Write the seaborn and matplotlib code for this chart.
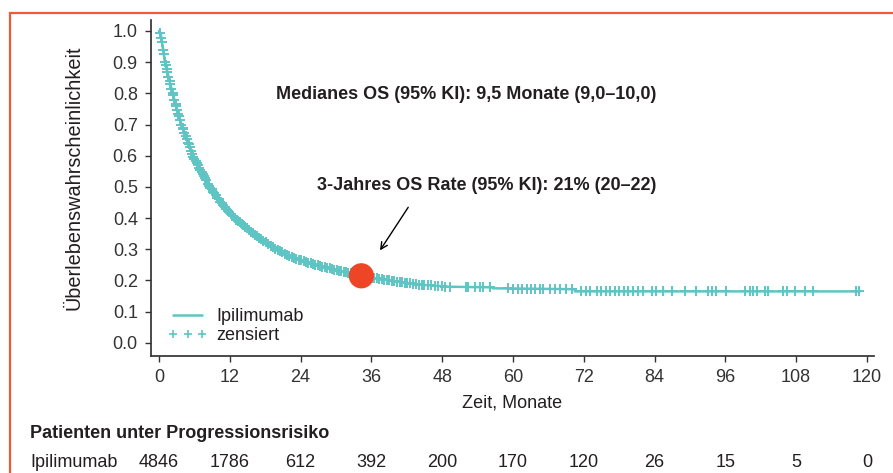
import numpy as np
import pandas as pd
import seaborn as sns
import matplotlib.pyplot as plt
from matplotlib.lines import Line2D
from matplotlib.patches import Rectangle

# Kaplan-Meier curve
km_months = [0, 0.3, 1.0, 2.3, 3.8, 5.7, 8.6, 10.5, 12.8, 16.0, 19.8, 22.8, 25.6, 30.0,
             34.3, 40.0, 44.0, 49.0, 56.6, 56.6, 70.5, 70.5, 118.8]
km_surv = [1.0, 0.99, 0.90, 0.80, 0.70, 0.60, 0.50, 0.45, 0.40, 0.35, 0.30, 0.272, 0.255,
           0.233, 0.215, 0.197, 0.187, 0.18, 0.178, 0.175, 0.172, 0.165, 0.165]

# censored observations (months)
censor_months = [
    0.2, 0.4, 0.5, 0.7, 0.8, 1.0, 1.1, 1.3, 1.4, 1.6, 1.8, 1.9, 2.1, 2.3, 2.4, 2.6, 2.8,
    2.9, 3.1, 3.3, 3.4, 3.6, 3.8, 4.0, 4.1, 4.3, 4.5, 4.7, 4.9, 5.0, 5.2, 5.4, 5.6, 5.8,
    6.0, 6.2, 6.4, 6.6, 6.8, 7.0, 7.2, 7.4, 7.6, 7.8, 8.0, 8.3, 8.5, 8.7, 8.9, 9.2, 9.4,
    9.6, 9.9, 10.1, 10.4, 10.6, 10.9, 11.1, 11.4, 11.7, 11.9, 12.2, 12.5, 12.8, 13.1,
    13.4, 13.7, 14.0, 14.3, 14.6, 14.9, 15.2, 15.6, 15.9, 16.3, 16.6, 17.0, 17.3, 17.7,
    18.1, 18.5, 18.9, 19.3, 19.7, 20.1, 20.5, 20.9, 21.3, 21.7, 22.1, 22.5, 22.9, 23.3,
    23.7, 24.1, 24.5, 24.9, 25.3, 25.7, 26.1, 26.5, 26.9, 27.3, 27.7, 28.1, 28.5, 28.9,
    29.3, 29.7, 30.1, 30.5, 30.9, 31.3, 31.7, 32.1, 32.5, 32.9, 33.3, 33.7, 34.1, 34.9,
    35.3, 35.7, 36.1, 36.5, 36.9, 37.3, 37.8, 38.2, 38.6, 39.0, 39.5, 39.9, 40.3, 40.8,
    41.2, 41.7, 42.1, 42.6, 43.0, 43.5, 44.0, 44.5, 45.0, 45.6, 46.1, 46.7, 47.3, 47.9,
    48.5, 49.3, 52.1, 52.4, 53.6, 54.4, 55.0, 56.1, 59.2, 60.0, 60.8, 61.5, 62.3, 63.0,
    63.8, 64.5, 65.1, 66.3, 67.2, 68.0, 69.0, 70.0, 71.6, 72.3, 73.1, 74.2, 75.0, 75.8,
    76.5, 77.3, 78.0, 78.8, 79.5, 80.3, 81.2, 82.0, 83.5, 84.3, 85.4, 86.9, 89.2, 91.1,
    93.1, 93.7, 94.5, 96.1, 99.3, 100.2, 100.7, 101.3, 102.7, 103.2, 105.8, 106.4,
    107.8, 109.5, 110.9, 118.1, 118.6]

# 3-year OS point
os3_month = [34.3]
os3_surv = [0.215]

tick_months = [0, 12, 24, 36, 48, 60, 72, 84, 96, 108, 120]
at_risk = [4846, 1786, 612, 392, 200, 170, 120, 26, 15, 5, 0]
y_ticks = [0.0, 0.1, 0.2, 0.3, 0.4, 0.5, 0.6, 0.7, 0.8, 0.9, 1.0]

teal = '#5ec5c4'
red = '#ee4526'
ink = '#231f20'
fs = 13

sns.set_theme(style='ticks', rc={
    'axes.edgecolor': '#333333',
    'xtick.color': '#333333',
    'ytick.color': '#333333',
    'text.color': ink,
    'axes.labelcolor': ink,
})
plt.rcParams['font.family'] = ['Liberation Sans', 'DejaVu Sans']

fig = plt.figure(figsize=(8.93, 4.73), dpi=100)
ax = fig.add_axes([0.1691, 0.2474, 0.8096, 0.7103])

curve = pd.DataFrame({'Monate': km_months, 'OS': km_surv})
sns.lineplot(data=curve, x='Monate', y='OS', color=teal, linewidth=1.8,
             estimator=None, sort=False, ax=ax)

cens = pd.DataFrame({'Monate': censor_months,
                     'OS': np.interp(censor_months, km_months, km_surv)})
ax.plot(cens['Monate'], cens['OS'], linestyle='none', marker='+', color=teal,
        markersize=6.5, markeredgewidth=1.4)

sns.scatterplot(x=os3_month, y=os3_surv, color=red, s=330, edgecolor='none',
                zorder=5, ax=ax)

ax.set_xlim(-1.36, 121.2)
ax.set_ylim(-0.042, 1.035)
ax.set_xticks(tick_months)
ax.set_yticks(y_ticks)
ax.set_yticklabels([f'{v:.1f}' for v in y_ticks])
ax.tick_params(labelsize=fs, length=4.5, width=1, pad=5)
ax.set_xlabel('Zeit, Monate', fontsize=fs, labelpad=6)
ax.set_ylabel('Überlebenswahrscheinlichkeit', fontsize=14.3)
ax.yaxis.set_label_coords(-0.093, 0.53)
sns.despine(ax=ax)

ax.text(19.9, 0.795, 'Medianes OS (95% KI): 9,5 Monate (9,0–10,0)',
        fontsize=fs, fontweight='bold', va='center', ha='left')
ax.text(26.7, 0.506, '3-Jahres OS Rate (95% KI): 21% (20–22)',
        fontsize=fs, fontweight='bold', va='center', ha='left')
ax.annotate('', xy=(37.2, 0.289), xytext=(42.5, 0.442),
            arrowprops=dict(arrowstyle='->', color='black', lw=1))

handles = [Line2D([], [], color=teal, linewidth=1.8),
           Line2D([], [], color=teal, linestyle='none', marker='+',
                  markersize=6, markeredgewidth=1.2)]
ax.legend(handles, ['Ipilimumab', 'zensiert'], loc='lower left',
          bbox_to_anchor=(0.0235, 0.035), frameon=False, fontsize=fs,
          numpoints=3, handlelength=2.2, handletextpad=0.5, labelspacing=0.1,
          borderpad=0, borderaxespad=0)

# number at risk table
fig.text(30 / 893, 1 - 434 / 473, 'Patienten unter Progressionsrisiko',
         fontsize=fs, fontweight='bold', va='center', ha='left')
fig.text(30 / 893, 1 - 462 / 473, 'Ipilimumab', fontsize=fs, va='center', ha='left')
for m, n in zip(tick_months, at_risk):
    ax.annotate(str(n), xy=(m, 0), xycoords=('data', 'figure fraction'),
                xytext=(m, 1 - 462 / 473), textcoords=('data', 'figure fraction'),
                fontsize=fs, va='center', ha='center')

# orange frame around the figure
fig.patches.append(Rectangle((10 / 893, -0.1), 1.2, 1 - 13 / 473 + 0.1,
                             transform=fig.transFigure, fill=False,
                             edgecolor='#ee5a36', linewidth=1.6))

fig.savefig('out.png', dpi=100)
